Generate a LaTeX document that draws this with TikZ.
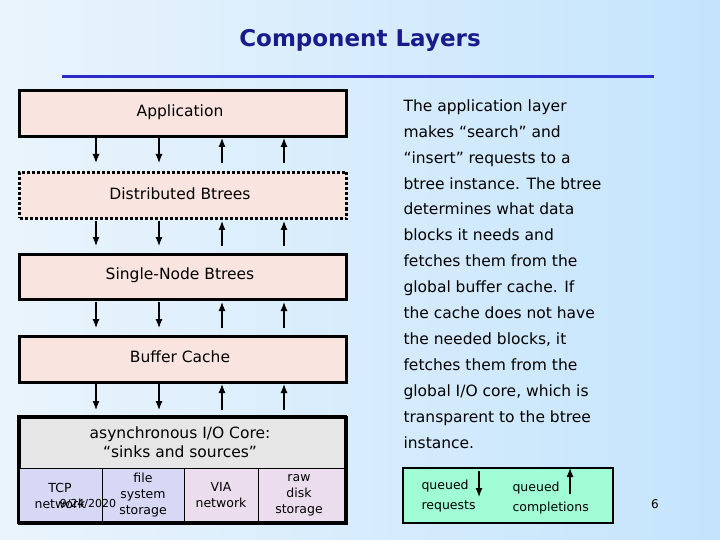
\documentclass[tikz,border=0pt]{standalone}
\usepackage{fontspec}
\usetikzlibrary{arrows.meta}
\setmainfont{DejaVu Sans}
\begin{document}
\begin{tikzpicture}[x=1pt,y=-1pt,
  layer/.style={draw=black,line width=3pt,fill=pinkbg},
  arr/.style={-{Latex[length=9pt,width=7pt]},line width=1.2pt},
  lbl/.style={font=\fontsize{15.5}{19}\selectfont}]
\definecolor{pinkbg}{HTML}{F9E4E0}
\definecolor{bgA}{HTML}{EAF4FC}
\definecolor{bgB}{HTML}{C4E4FC}
\definecolor{titleblue}{HTML}{1A1A8C}
\definecolor{lineblue}{HTML}{2A2AC8}
\definecolor{greybg}{HTML}{E6E6E6}
\definecolor{lavA}{HTML}{D6D8F6}
\definecolor{lavB}{HTML}{ECDDEE}
\definecolor{greenbg}{HTML}{A0FCD4}
\useasboundingbox (0,0) rectangle (720,540);
\shade[left color=bgA,right color=bgB] (0,0) rectangle (720,540);
\node[font=\fontsize{23}{26}\selectfont\bfseries,text=titleblue] (title) at (360,40) {Component Layers};
\draw[lineblue,line width=3pt] (62,77) -- (654,77);
% layers
\node[layer,minimum width=327,minimum height=46,anchor=north west] (app) at (18,89) {};
\node[lbl] at (180,112) {Application};
\node[draw=black,line width=3pt,dotted,fill=pinkbg,minimum width=327,minimum height=46,anchor=north west] (dist) at (18,171) {};
\node[lbl] at (180,194) {Distributed Btrees};
\node[layer,minimum width=327,minimum height=45,anchor=north west] (single) at (18,253) {};
\node[lbl] at (180,275) {Single-Node Btrees};
\node[layer,minimum width=327,minimum height=46,anchor=north west] (buf) at (18,335) {};
\node[lbl] at (180,357) {Buffer Cache};
% core
\node[draw=black,line width=3pt,fill=greybg,minimum width=327,minimum height=106,anchor=north west] (core) at (18,416) {};
\node[lbl,align=center] at (180,442) {asynchronous I/O Core:\\``sinks and sources''};
\fill[lavA] (18,468) rectangle (184,522);
\fill[lavB] (184,468) rectangle (345,522);
\draw[line width=1pt] (18,468) -- (345,468) (102,468) -- (102,522) (184,468) -- (184,522) (258,468) -- (258,522);
\draw[line width=3pt] (18,416) rectangle (345,522);
\node[font=\fontsize{12.5}{16}\selectfont,align=center] (tcp) at (60,496) {TCP\\network};
\node[font=\fontsize{12.5}{16}\selectfont,align=center] (fs) at (143,495) {file\\system\\storage};
\node[font=\fontsize{12.5}{16}\selectfont,align=center] (via) at (221,495) {VIA\\network};
\node[font=\fontsize{12.5}{16}\selectfont,align=center] (raw) at (299,495) {raw\\disk\\storage};
\node[font=\fontsize{11}{12}\selectfont] (date) at (88,504) {9/24/2020};
% arrows
\foreach \t/\b in {138/163, 221/246, 302/328, 384/410}{
  \draw[arr] (96,\t) -- (96,\b);
  \draw[arr] (159,\t) -- (159,\b);
  \draw[arr] (222,\b) -- (222,\t);
  \draw[arr] (284,\b) -- (284,\t);
}
% right text
\node[anchor=north west,align=left,font=\fontsize{15.5}{25.9}\selectfont] (txt) at (400,96) {The application layer\\makes ``search'' and\\``insert'' requests to a\\btree instance. The btree\\determines what data\\blocks it needs and\\fetches them from the\\global buffer cache. If\\the cache does not have\\the needed blocks, it\\fetches them from the\\global I/O core, which is\\transparent to the btree\\instance.};
% green box
\node[draw=black,line width=1.5pt,fill=greenbg,minimum width=210,minimum height=55,anchor=north west] (green) at (402,467) {};
\node[font=\fontsize{12.5}{20}\selectfont,align=left,anchor=west] (qr) at (418,496) {queued\\requests};
\node[font=\fontsize{12.5}{20}\selectfont,align=left,anchor=west] (qc) at (509,498) {queued\\completions};
\draw[arr] (479,471) -- (479,497);
\draw[arr] (570,494) -- (570,468);
\node[font=\fontsize{12}{12}\selectfont] (pg) at (655,504) {6};
\end{tikzpicture}
\end{document}
